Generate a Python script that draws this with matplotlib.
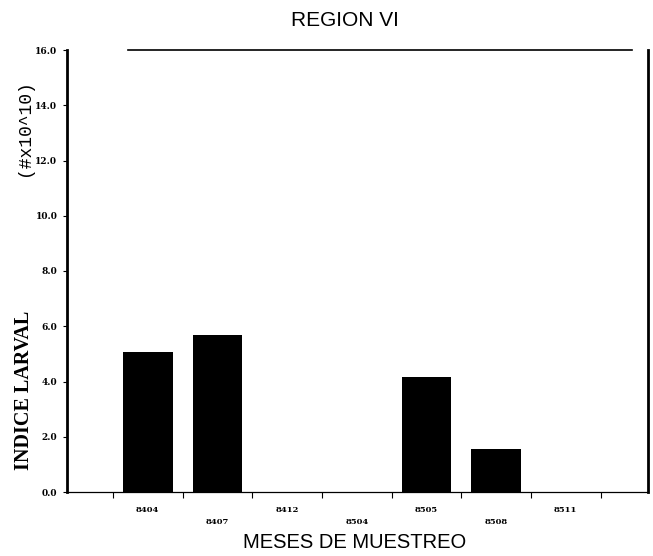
import matplotlib
matplotlib.use("Agg")
import matplotlib.pyplot as plt
import numpy as np

# Sampling months and larval index (#x10^10)
months = ["8404", "8407", "8412", "8504", "8505", "8508", "8511"]
larval_index = [5.05, 5.7, 0.0, 0.0, 4.15, 1.55, 0.0]
y_ticks = [0.0, 2.0, 4.0, 6.0, 8.0, 10.0, 12.0, 14.0, 16.0]

fig = plt.figure(figsize=(6.53, 5.56), dpi=100)
ax = fig.add_axes([67 / 653, 1 - 492 / 556, (648 - 67) / 653, (492 - 50) / 556])

x = np.arange(len(months))
ax.bar(x, larval_index, width=0.71, color="black")

ax.set_xlim(-1.16, 7.18)
ax.set_ylim(0, 16)

# y axis ticks
ax.set_yticks(y_ticks)
ax.set_yticklabels([f"{v:.1f}" for v in y_ticks], fontsize=6.5, fontweight="bold",
                   family="DejaVu Serif")
ax.tick_params(axis="y", length=3, width=0.8, pad=4)

# x axis: labels at centres (staggered), small ticks between categories
ax.set_xticks(x)
ax.set_xticklabels([])
ax.tick_params(axis="x", which="major", length=0)
ax.set_xticks(np.arange(-0.5, 7.0, 1.0), minor=True)
ax.tick_params(axis="x", which="minor", length=4, width=0.8, direction="out")
for i, m in enumerate(months):
    off = -0.040 if i % 2 == 0 else -0.068
    ax.text(i, off, m, transform=ax.get_xaxis_transform(), ha="center", va="center",
            fontsize=6, fontweight="bold", family="DejaVu Serif")

# spines
ax.spines["left"].set_linewidth(2.0)
ax.spines["right"].set_linewidth(2.0)
ax.spines["bottom"].set_linewidth(0.9)
ax.spines["top"].set_linewidth(1.2)
ax.spines["top"].set_bounds(-0.29, 6.95)

fig.text(345 / 653, 1 - 20 / 556, "REGION VI", ha="center", va="center", fontsize=15,
         family="Liberation Sans")
fig.text(355 / 653, 1 - 543 / 556, "MESES DE MUESTREO", ha="center", va="center",
         fontsize=14.5, family="Liberation Sans")
fig.text(24 / 653, 1 - 390 / 556, "INDICE LARVAL", rotation=90, ha="center", va="center",
         fontsize=14.5, fontweight="bold", family="Liberation Serif")
fig.text(24 / 653, 1 - 128 / 556, "(#x10^10)", rotation=90, ha="center", va="center",
         fontsize=13, family="Liberation Mono")

fig.savefig("out.png", dpi=100)
